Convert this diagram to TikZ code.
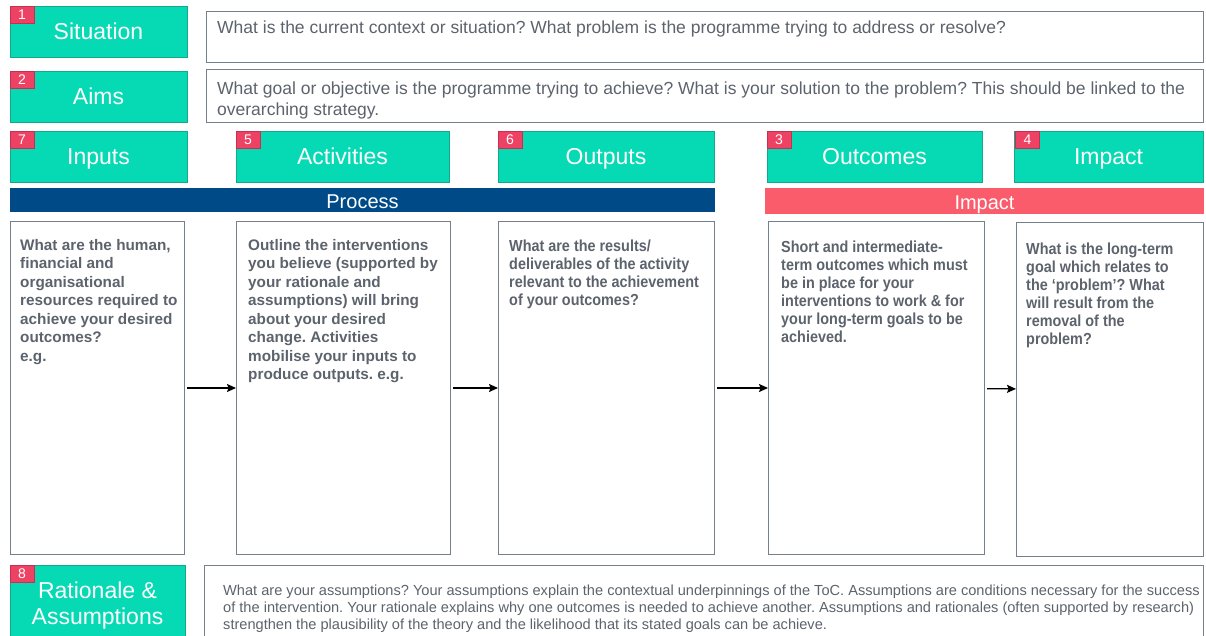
\documentclass[tikz,border=0pt]{standalone}
\usepackage{fontspec}
\setmainfont{Liberation Sans}
\usetikzlibrary{arrows.meta}
\frenchspacing

\definecolor{tocgreen}{RGB}{6,218,181}
\definecolor{tocgreendark}{RGB}{22,168,140}
\definecolor{badgered}{RGB}{238,66,100}
\definecolor{badgedark}{RGB}{196,48,80}
\definecolor{procblue}{RGB}{0,75,135}
\definecolor{impcoral}{RGB}{250,92,108}
\definecolor{boxline}{RGB}{118,128,140}
\definecolor{txtgray}{RGB}{92,99,108}

\begin{document}
\begin{tikzpicture}[x=1pt,y=-1pt,
    tile/.style={fill=tocgreen,draw=tocgreendark,line width=0.8pt,inner sep=0pt,outer sep=0pt,
      text=white,font=\fontsize{23}{26}\selectfont,align=center},
    head/.style={tile,text height=18.5pt,text depth=2.5pt},
    badge/.style={fill=badgered,draw=badgedark,line width=0.8pt,inner sep=0pt,outer sep=0pt,
      minimum width=24pt,minimum height=17pt,anchor=north west,text=white,font=\fontsize{14}{14}\selectfont},
    bar/.style={inner sep=0pt,outer sep=0pt,text=white,font=\fontsize{20}{20}\selectfont,
      text height=18pt,text depth=1.5pt},
    card/.style={draw=boxline,line width=1pt,inner sep=0pt,outer sep=0pt},
    ask/.style={anchor=north west,inner sep=0pt,align=left,text=txtgray,font=\fontsize{17.5}{21}\selectfont},
    note/.style={anchor=north west,inner sep=0pt,align=left,text=txtgray,font=\bfseries\fontsize{15.3}{18.5}\selectfont},
    slim/.style={anchor=north west,inner sep=0pt,align=left,text=txtgray,
      font=\bfseries\fontsize{16}{18}\selectfont\addfontfeature{FakeStretch=0.9}},
    small/.style={anchor=north west,inner sep=0pt,align=left,text=txtgray,font=\fontsize{14.6}{17}\selectfont},
  ]
  \useasboundingbox (0,0) rectangle (1206,636);

  % green headers
  \draw
    (98.5,31.5) node[head,minimum width=177pt,minimum height=51pt] (sit){Situation}
    (98.5,96.5) node[head,minimum width=177pt,minimum height=51pt] (aim){Aims}
    (98.5,156.5) node[head,minimum width=177pt,minimum height=51pt] (inp){Inputs}
    (342.5,156.5) node[head,minimum width=213pt,minimum height=51pt] (act){Activities}
    (606,156.5) node[head,minimum width=216pt,minimum height=51pt] (out){Outputs}
    (874.5,156.5) node[head,minimum width=215pt,minimum height=51pt] (outc){Outcomes}
    (1108.5,156.5) node[head,minimum width=189pt,minimum height=51pt] (imp){Impact}
    (97.5,605.5) node[tile,minimum width=175pt,minimum height=81pt] (rat){Rationale \&\\Assumptions};

  % number tags
  \draw
    (sit.north west) node[badge] (n1){1}
    (aim.north west) node[badge] (n2){2}
    (inp.north west) node[badge] (n7){7}
    (act.north west) node[badge] (n5){5}
    (out.north west) node[badge] (n6){6}
    (outc.north west) node[badge] (n3){3}
    ([xshift=1.5pt]imp.north west) node[badge] (n4){4}
    (rat.north west) node[badge] (n8){8};

  % bands
  \draw
    (362.5,200) node[bar,fill=procblue,minimum width=705pt,minimum height=24pt] (proc){Process}
    (984.5,201) node[bar,fill=impcoral,minimum width=439pt,minimum height=26pt] (impb){Impact};

  % question boxes
  \draw
    (704.5,37.5) node[card,minimum width=997pt,minimum height=51pt] (sitq){}
    (704.5,96.5) node[card,minimum width=997pt,minimum height=53pt] (aimq){}
    (703.5,605.5) node[card,minimum width=999pt,minimum height=81pt] (ratq){}
    (97,388) node[card,minimum width=174pt,minimum height=332pt] (inq){}
    (343,388) node[card,minimum width=214pt,minimum height=332pt] (actq){}
    (606,388) node[card,minimum width=216pt,minimum height=332pt] (outq){}
    (876,388) node[card,minimum width=216pt,minimum height=332pt] (outcq){}
    (1109.5,389.5) node[card,minimum width=187pt,minimum height=333pt] (impq){};

  \node[ask] at ([xshift=11pt,yshift=-9pt]sitq.north west)
    {What is the current context or situation? What problem is the programme trying to address or resolve?};
  \node[ask] at ([xshift=11pt,yshift=-12pt]aimq.north west)
    {What goal or objective is the programme trying to achieve? What is your solution to the problem? This should be linked to the\\
     overarching strategy.};
  \node[small] at ([xshift=19pt,yshift=-20pt]ratq.north west)
    {What are your assumptions? Your assumptions explain the contextual underpinnings of the ToC. Assumptions are conditions necessary for the success\\
     of the intervention. Your rationale explains why one outcomes is needed to achieve another. Assumptions and rationales (often supported by research)\\
     strengthen the plausibility of the theory and the likelihood that its stated goals can be achieve.};

  \node[note] at ([xshift=10pt,yshift=-17pt]inq.north west)
    {What are the human,\\ financial and\\ organisational\\ resources required to\\ achieve your desired\\ outcomes?\\ e.g.};
  \node[note] at ([xshift=12pt,yshift=-17pt]actq.north west)
    {Outline the interventions\\ you believe (supported by\\ your rationale and\\ assumptions) will bring\\ about your desired\\ change. Activities\\ mobilise your inputs to\\ produce outputs. e.g.};
  \node[slim] at ([xshift=11pt,yshift=-18pt]outq.north west)
    {What are the results/\\ deliverables of the activity\\ relevant to the achievement\\ of your outcomes?};
  \node[slim] at ([xshift=13pt,yshift=-19pt]outcq.north west)
    {Short and intermediate-\\ term outcomes which must\\ be in place for your\\ interventions to work \& for\\ your long-term goals to be\\ achieved.};
  \node[slim] at ([xshift=10pt,yshift=-20pt]impq.north west)
    {What is the long-term\\ goal which relates to\\ the ‘problem’? What\\ will result from the\\ removal of the\\ problem?};

  % flow
  \begin{scope}[-{Stealth[length=9pt,width=8pt,inset=1.5pt]},line width=1.2pt,shorten <=3pt]
    \draw (inq) -- (actq);
    \draw (actq) -- (outq);
    \draw (outq) -- (outcq);
    \draw (outcq) -- (impq);
  \end{scope}
\end{tikzpicture}
\end{document}
